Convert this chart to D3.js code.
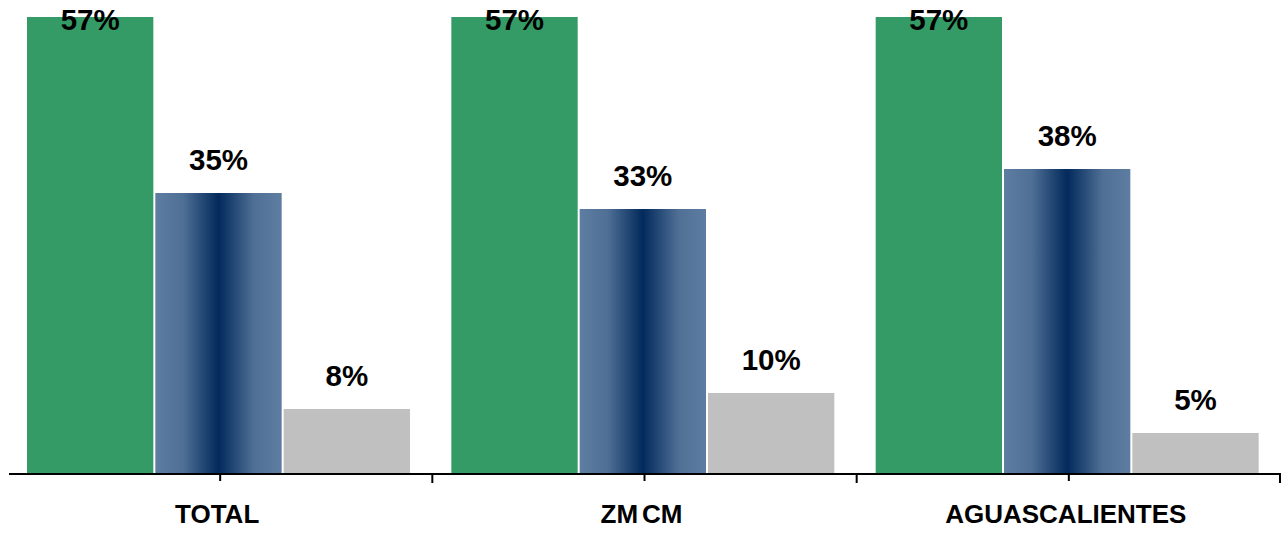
<!DOCTYPE html>
<html>
<head>
<meta charset="utf-8">
<script src="https://cdn.jsdelivr.net/npm/d3@7"></script>
<style>
  html, body { margin: 0; padding: 0; background: #fff; }
  svg { display: block; }
  text { font-family: Arial, "Liberation Sans", sans-serif; font-weight: bold; fill: #000; }
</style>
</head>
<body>
<svg id="chart" width="1281" height="533"></svg>
<script>
// Regions shown along the x axis
const categories = ["TOTAL", "ZMCM", "AGUASCALIENTES"];
// Three answer series, one bar per region each (percent)
const seriesKeys = ["s1", "s2", "s3"];
const s1Values = [57, 57, 57];
const s2Values = [35, 33, 38];
const s3Values = [8, 10, 5];
const seriesValues = [s1Values, s2Values, s3Values];

const svg = d3.select("#chart");
const width = 1281, height = 533;
const baseline = 473;

// Horizontal gradient for the middle series
const defs = svg.append("defs");
const grad = defs.append("linearGradient")
  .attr("id", "navyGrad")
  .attr("x1", "0%").attr("x2", "100%").attr("y1", "0%").attr("y2", "0%");
[[0, "#5d7da1"], [0.22, "#4f6f95"], [0.5, "#022a5c"], [0.78, "#4f6f95"], [1, "#5d7da1"]]
  .forEach(([o, c]) => grad.append("stop").attr("offset", o).attr("stop-color", c));

const fills = ["#349a66", "url(#navyGrad)", "#c0c0c0"];

const x0 = d3.scaleBand().domain(categories).range([8, 1281]).padding(0);
const x1 = d3.scaleBand().domain(seriesKeys).range([19, 404]).padding(0);
const y = d3.scaleLinear().domain([0, 60]).range([baseline, baseline - 480]);

const gap = 2;
const groups = svg.selectAll("g.group")
  .data(categories)
  .join("g")
  .attr("class", "group")
  .attr("transform", d => `translate(${x0(d)},0)`);

groups.each(function(cat, ci) {
  const g = d3.select(this);
  const rows = seriesKeys.map((k, si) => ({ key: k, si, value: seriesValues[si][ci] }));
  g.selectAll("rect")
    .data(rows)
    .join("rect")
    .attr("x", d => x1(d.key))
    .attr("y", d => y(d.value))
    .attr("width", x1.bandwidth() - gap)
    .attr("height", d => baseline - y(d.value))
    .attr("fill", d => fills[d.si]);

  g.selectAll("text.val")
    .data(rows)
    .join("text")
    .attr("class", "val")
    .attr("x", d => x1(d.key) + (x1.bandwidth() - gap) / 2)
    .attr("y", d => Math.max(y(d.value) - 23, 30))
    .attr("text-anchor", "middle")
    .style("font-size", "29.5px")
    .text(d => d.value + "%");
});

// x axis: baseline with ticks at group edges and centres
const axisG = svg.append("g");
axisG.append("line")
  .attr("x1", 9).attr("x2", 1281)
  .attr("y1", baseline + 1).attr("y2", baseline + 1)
  .attr("stroke", "#000").attr("stroke-width", 2);

const tickXs = [];
categories.forEach((c, i) => {
  tickXs.push({ x: x0(c) + x0.bandwidth() / 2, len: 7 });
  tickXs.push({ x: Math.min(x0(c) + x0.bandwidth(), 1280), len: 9 });
});
axisG.selectAll("line.tick")
  .data(tickXs)
  .join("line")
  .attr("class", "tick")
  .attr("x1", d => d.x).attr("x2", d => d.x)
  .attr("y1", baseline + 1).attr("y2", d => baseline + 1 + d.len)
  .attr("stroke", "#000").attr("stroke-width", 2);

const catText = axisG.selectAll("text.cat")
  .data(categories)
  .join("text")
  .attr("class", "cat")
  .attr("x", d => x0(d) + x0.bandwidth() / 2 - 3)
  .attr("y", 523)
  .attr("text-anchor", "middle")
  .style("font-size", "26px");

// "ZMCM" is set with a small gap between its two halves
catText.each(function(d) {
  const t = d3.select(this);
  if (d === "ZMCM") {
    t.append("tspan").text("ZM");
    t.append("tspan").attr("dx", 4).text("CM");
  } else {
    t.text(d);
  }
});
</script>
</body>
</html>
